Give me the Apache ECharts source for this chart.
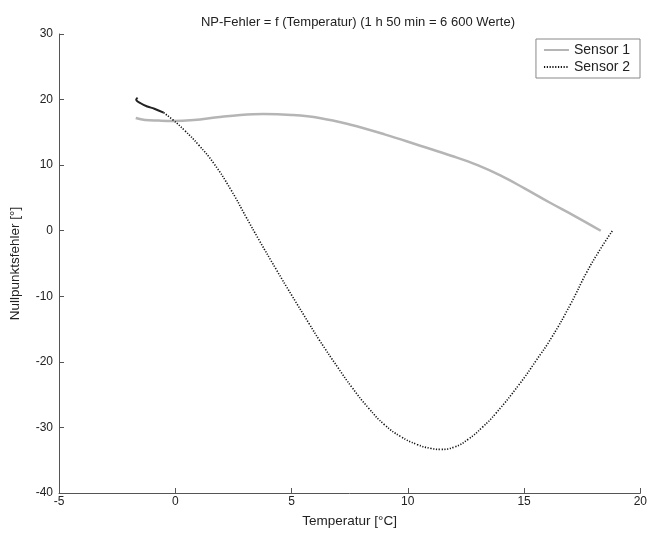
<!DOCTYPE html>
<html>
<head>
<meta charset="utf-8">
<script src="https://cdn.jsdelivr.net/npm/echarts@6/dist/echarts.min.js"></script>
<style>
  html, body { margin: 0; padding: 0; background: #fff; }
  #main { width: 650px; height: 533px; }
</style>
</head>
<body>
<div id="main"></div>
<script>
// Nullpunktsfehler über Temperatur, Werte aus dem Bild geschätzt
var xTicks = [-5, 0, 5, 10, 15, 20];
var yTicks = [-40, -30, -20, -10, 0, 10, 20, 30];

var sensor1 = [
  [-1.7, 17.2], [-1.3, 16.9], [-0.7, 16.8], [-0.1, 16.75], [0.8, 16.9],
  [1.8, 17.3], [2.8, 17.65], [3.8, 17.8], [5.0, 17.65], [6.2, 17.2],
  [7.5, 16.2], [9.0, 14.7], [10.5, 13.0], [11.9, 11.4], [13.0, 10.0],
  [14.0, 8.4], [15.0, 6.5], [16.1, 4.3], [17.2, 2.2], [18.3, 0]
];

// Anfang von Sensor 2 (durchgezogen, dunkel)
var sensor2Start = [
  [-1.62, 20.3], [-1.68, 20.0], [-1.47, 19.4], [-1.2, 18.95], [-0.9, 18.6], [-0.5, 18.0]
];

var sensor2 = [
  [-0.5, 18.0], [-0.1, 16.9], [0.4, 15.3], [1.0, 13.1], [1.65, 10.3],
  [2.4, 6.2], [3.06, 2.0], [3.6, -1.4], [4.34, -5.9], [5.0, -9.8],
  [5.76, -14.2], [6.2, -16.7], [7.0, -20.9], [7.6, -23.9], [8.3, -27.0],
  [9.0, -29.6], [9.7, -31.4], [10.4, -32.6], [11.0, -33.2], [11.4, -33.35],
  [12.0, -33.0], [12.6, -31.8], [13.2, -30.0], [13.8, -27.8], [14.8, -23.4],
  [15.5, -19.9], [16.2, -16.2], [17.0, -11.2], [17.7, -6.3], [18.3, -2.7],
  [18.8, 0]
];

var chart = echarts.init(document.getElementById('main'));
var font = 'Liberation Sans, Arial, sans-serif';

var option = {
  animation: false,
  backgroundColor: '#fff',
  textStyle: { fontFamily: font },
  title: {
    text: 'NP-Fehler = f (Temperatur) (1 h 50 min = 6 600 Werte)',
    left: 353,
    textAlign: 'center',
    top: 11,
    textStyle: { fontSize: 13, fontWeight: 'normal', color: '#222', fontFamily: font }
  },
  legend: {
    data: ['Sensor 1', 'Sensor 2'],
    orient: 'vertical',
    right: 10,
    top: 39,
    itemWidth: 25,
    itemHeight: 6,
    itemGap: 3,
    padding: [4, 10, 4, 7],
    borderColor: '#888',
    borderWidth: 1,
    backgroundColor: '#fff',
    itemStyle: { opacity: 0 },
    textStyle: { fontSize: 14, color: '#222', fontFamily: font }
  },
  grid: { left: 57, right: 5, top: 34, bottom: 37, containLabel: false },
  xAxis: {
    type: 'value',
    min: xTicks[0],
    max: xTicks[xTicks.length - 1],
    interval: 5,
    name: 'Temperatur [°C]',
    nameLocation: 'middle',
    nameGap: 21,
    nameTextStyle: { fontSize: 13.5, color: '#222', fontFamily: font },
    axisLine: { onZero: false, lineStyle: { color: '#555', width: 1 } },
    axisTick: { inside: true, length: 5, lineStyle: { color: '#555' } },
    axisLabel: { fontSize: 12, color: '#222', margin: 3, fontFamily: font },
    splitLine: { show: false }
  },
  yAxis: {
    type: 'value',
    min: yTicks[0],
    max: yTicks[yTicks.length - 1],
    interval: 10,
    name: 'Nullpunktsfehler [°]',
    nameLocation: 'middle',
    nameGap: 37,
    nameTextStyle: { fontSize: 13.5, color: '#222', fontFamily: font },
    axisLine: { show: true, onZero: false, lineStyle: { color: '#555', width: 1 } },
    axisTick: { show: true, inside: true, length: 5, lineStyle: { color: '#555' } },
    axisLabel: { fontSize: 12, color: '#222', margin: 6, fontFamily: font },
    splitLine: { show: false }
  },
  series: [
    {
      name: 'Sensor 1',
      type: 'line',
      data: sensor1,
      smooth: 0.4,
      showSymbol: false,
      symbol: 'none',
      lineStyle: { color: '#b5b5b5', width: 2.5 },
      itemStyle: { color: '#b5b5b5' }
    },
    {
      name: 'Sensor 2',
      type: 'line',
      data: sensor2,
      smooth: 0.5,
      showSymbol: false,
      symbol: 'none',
      lineStyle: { color: '#111', width: 1.6, type: [1.2, 1.6] },
      itemStyle: { color: '#111' }
    },
    {
      name: 'Sensor 2 Start',
      type: 'line',
      data: sensor2Start,
      smooth: 0.4,
      showSymbol: false,
      symbol: 'none',
      lineStyle: { color: '#222', width: 2 }
    }
  ]
};

chart.setOption(option);
</script>
</body>
</html>
